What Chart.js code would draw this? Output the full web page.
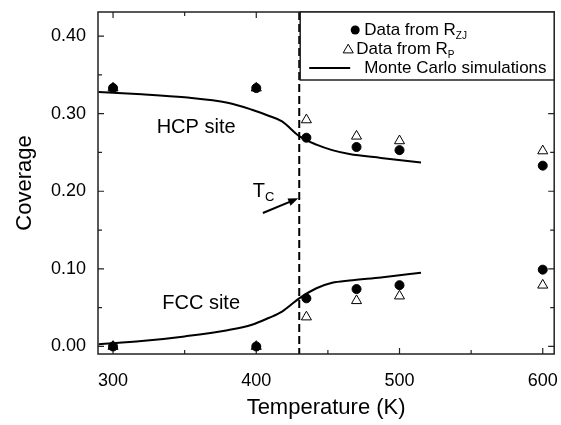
<!DOCTYPE html>
<html><head><meta charset="utf-8">
<script src="https://cdn.jsdelivr.net/npm/chart.js@4.4.0/dist/chart.umd.min.js"></script>
<style>html,body{margin:0;padding:0;background:#fff}#wrap{width:561px;height:425px;position:relative}</style>
</head><body><div id="wrap"><canvas id="c"></canvas></div>
<script>
// ---- data ----
const temps = [300, 400, 435, 470, 500, 600];
const hcpZJ = [0.333, 0.333, 0.269, 0.257, 0.253, 0.233];
const hcpP  = [0.333, 0.333, 0.292, 0.271, 0.265, 0.252];
const fccZJ = [0.000, 0.000, 0.062, 0.074, 0.079, 0.099];
const fccP  = [0.000, 0.000, 0.038, 0.059, 0.065, 0.079];
const mcT   = [290, 320, 350, 380, 397, 409, 418, 430, 442, 453, 465, 487, 515];
const mcHCP = [0.328, 0.325, 0.321, 0.314, 0.305, 0.297, 0.290, 0.271, 0.260, 0.253, 0.248, 0.243, 0.237];
const mcFCC = [0.003, 0.007, 0.013, 0.021, 0.028, 0.037, 0.045, 0.062, 0.075, 0.082, 0.085, 0.089, 0.095];
const xTicks = [300, 400, 500, 600];
const xMinorTicks = [300, 350, 400, 450, 500, 550, 600];
const yTicks = [0.0, 0.1, 0.2, 0.3, 0.4];
const yMinorTicks = [0.0, 0.05, 0.1, 0.15, 0.2, 0.25, 0.3, 0.35, 0.4];
const Tc = 430;
const legendLabels = [["Data from R", "ZJ"], ["Data from R", "P"], ["Monte Carlo simulations", ""]];

const FONT = '"Liberation Sans", Arial, Helvetica, sans-serif';
const pts = (ys) => temps.map((t, i) => ({x: t, y: ys[i]}));
const line = (ys) => mcT.map((t, i) => ({x: t, y: ys[i]}));
const zeroPad = (s) => { s.paddingLeft = 0; s.paddingRight = 0; s.paddingTop = 0; s.paddingBottom = 0; };

const decor = {
  id: 'decor',
  beforeDatasetsDraw(chart) {
    const {ctx, chartArea: a, scales: {x, y}} = chart;
    ctx.save();
    ctx.strokeStyle = '#000'; ctx.lineWidth = 2; ctx.setLineDash([8, 4]);
    const xc = x.getPixelForValue(Tc);
    ctx.beginPath(); ctx.moveTo(xc, a.top); ctx.lineTo(xc, a.bottom); ctx.stroke();
    ctx.setLineDash([]);
    ctx.lineWidth = 1.5; ctx.strokeStyle = '#222';
    ctx.strokeRect(a.left, a.top, a.right - a.left, a.bottom - a.top);
    ctx.lineWidth = 1.2;
    ctx.beginPath();
    xMinorTicks.forEach(v => {
      const px = x.getPixelForValue(v);
      const L = xTicks.includes(v) ? 6 : 4;
      ctx.moveTo(px, a.bottom); ctx.lineTo(px, a.bottom - L);
      ctx.moveTo(px, a.top); ctx.lineTo(px, a.top + L);
    });
    yMinorTicks.forEach(v => {
      const py = y.getPixelForValue(v);
      const L = yTicks.some(t => Math.abs(t - v) < 1e-9) ? 6 : 4;
      ctx.moveTo(a.left, py); ctx.lineTo(a.left + L, py);
      ctx.moveTo(a.right, py); ctx.lineTo(a.right - L, py);
    });
    ctx.stroke();
    ctx.restore();
  },
  afterDatasetsDraw(chart) {
    const {ctx, chartArea: a, scales: {x, y}} = chart;
    ctx.save();
    ctx.fillStyle = '#000';
    ctx.textAlign = 'center'; ctx.textBaseline = 'middle';
    ctx.font = '20px ' + FONT;
    ctx.fillText('HCP site', x.getPixelForValue(358), y.getPixelForValue(0.282));
    ctx.fillText('FCC site', x.getPixelForValue(361.5), y.getPixelForValue(0.055));
    ctx.textAlign = 'left'; ctx.textBaseline = 'alphabetic';
    ctx.font = '20px ' + FONT;
    const tx = x.getPixelForValue(397.5), ty = y.getPixelForValue(0.193);
    ctx.fillText('T', tx, ty);
    const tw = ctx.measureText('T').width;
    ctx.font = '13px ' + FONT;
    ctx.fillText('C', tx + tw, ty + 4);
    const x0 = x.getPixelForValue(404.6), y0 = y.getPixelForValue(0.172);
    const x1 = x.getPixelForValue(429.3), y1 = y.getPixelForValue(0.191);
    const ang = Math.atan2(y1 - y0, x1 - x0);
    ctx.strokeStyle = '#000'; ctx.lineWidth = 2;
    ctx.beginPath(); ctx.moveTo(x0, y0);
    ctx.lineTo(x1 - 6 * Math.cos(ang), y1 - 6 * Math.sin(ang)); ctx.stroke();
    ctx.beginPath();
    ctx.moveTo(x1, y1);
    ctx.lineTo(x1 - 10 * Math.cos(ang) + 4 * Math.sin(ang), y1 - 10 * Math.sin(ang) - 4 * Math.cos(ang));
    ctx.lineTo(x1 - 10 * Math.cos(ang) - 4 * Math.sin(ang), y1 - 10 * Math.sin(ang) + 4 * Math.cos(ang));
    ctx.closePath(); ctx.fill();
    // legend
    const bw = 254, bh = 68;
    const bx = a.right - bw, by = a.top;
    ctx.fillStyle = '#fff'; ctx.fillRect(bx, by, bw, bh);
    ctx.lineWidth = 1.5; ctx.strokeStyle = '#222';
    ctx.strokeRect(bx, by, bw, bh);
    ctx.fillStyle = '#000'; ctx.strokeStyle = '#000';
    const rows = [by + 18, by + 37, by + 56];
    ctx.beginPath(); ctx.arc(bx + 55, rows[0], 4.5, 0, Math.PI * 2); ctx.fill();
    ctx.lineWidth = 1;
    const r = 5.8, cx = bx + 48, cy = rows[1] + 1;
    ctx.beginPath();
    ctx.moveTo(cx, cy - r);
    ctx.lineTo(cx + r * Math.sin(2 * Math.PI / 3), cy - r * Math.cos(2 * Math.PI / 3));
    ctx.lineTo(cx + r * Math.sin(4 * Math.PI / 3), cy - r * Math.cos(4 * Math.PI / 3));
    ctx.closePath(); ctx.stroke();
    ctx.lineWidth = 2;
    ctx.beginPath(); ctx.moveTo(bx + 9, rows[2]); ctx.lineTo(bx + 50, rows[2]); ctx.stroke();
    const textX = [bx + 64, bx + 56, bx + 64];
    legendLabels.forEach((lab, i) => {
      ctx.textBaseline = 'middle'; ctx.textAlign = 'left';
      ctx.font = '17px ' + FONT;
      ctx.fillText(lab[0], textX[i], rows[i]);
      if (lab[1]) {
        const w = ctx.measureText(lab[0]).width;
        ctx.font = '10px ' + FONT;
        ctx.fillText(lab[1], textX[i] + w, rows[i] + 6);
      }
    });
    ctx.restore();
  }
};

new Chart(document.getElementById('c'), {
  type: 'scatter',
  data: {
    datasets: [
      {label: 'HCP R_ZJ', data: pts(hcpZJ), pointStyle: 'circle', pointRadius: 4.5, backgroundColor: '#000', borderColor: '#000', order: 0},
      {label: 'FCC R_ZJ', data: pts(fccZJ), pointStyle: 'circle', pointRadius: 4.5, backgroundColor: '#000', borderColor: '#000', order: 0},
      {label: 'HCP R_P', data: pts(hcpP), pointStyle: 'triangle', pointRadius: 5.8, backgroundColor: '#fff', borderColor: '#000', borderWidth: 1, order: 1},
      {label: 'FCC R_P', data: pts(fccP), pointStyle: 'triangle', pointRadius: 5.8, backgroundColor: '#fff', borderColor: '#000', borderWidth: 1, order: 1},
      {label: 'MC HCP', data: line(mcHCP), showLine: true, pointRadius: 0, borderColor: '#000', borderWidth: 2, cubicInterpolationMode: 'monotone', order: 2},
      {label: 'MC FCC', data: line(mcFCC), showLine: true, pointRadius: 0, borderColor: '#000', borderWidth: 2, cubicInterpolationMode: 'monotone', order: 2}
    ]
  },
  options: {
    responsive: true, maintainAspectRatio: false, animation: false,
    layout: {padding: {left: 0, right: 4, top: 12, bottom: 0}},
    plugins: {legend: {display: false}, tooltip: {enabled: false}},
    scales: {
      x: {
        type: 'linear', min: 289.5, max: 608,
        afterBuildTicks: (s) => { s.ticks = xTicks.map(v => ({value: v})); },
        afterFit: (s) => { s.height = 71; zeroPad(s); },
        grid: {display: false, drawTicks: false}, border: {display: false},
        ticks: {color: '#000', font: {family: FONT, size: 18}, padding: 16, maxRotation: 0,
                callback: (v) => String(v)},
        title: {display: true, text: 'Temperature (K)', color: '#000', font: {family: FONT, size: 22}, padding: {top: 0, bottom: 4}}
      },
      y: {
        type: 'linear', min: -0.0097, max: 0.431,
        afterBuildTicks: (s) => { s.ticks = yTicks.map(v => ({value: v})); },
        afterFit: (s) => { s.width = 98; zeroPad(s); },
        grid: {display: false, drawTicks: false}, border: {display: false},
        ticks: {color: '#000', font: {family: FONT, size: 18}, padding: 12,
                callback: (v) => Number(v).toFixed(2)},
        title: {display: true, text: 'Coverage', color: '#000', font: {family: FONT, size: 22}, padding: {top: 12, bottom: 0}}
      }
    }
  },
  plugins: [decor]
});
</script></body></html>
